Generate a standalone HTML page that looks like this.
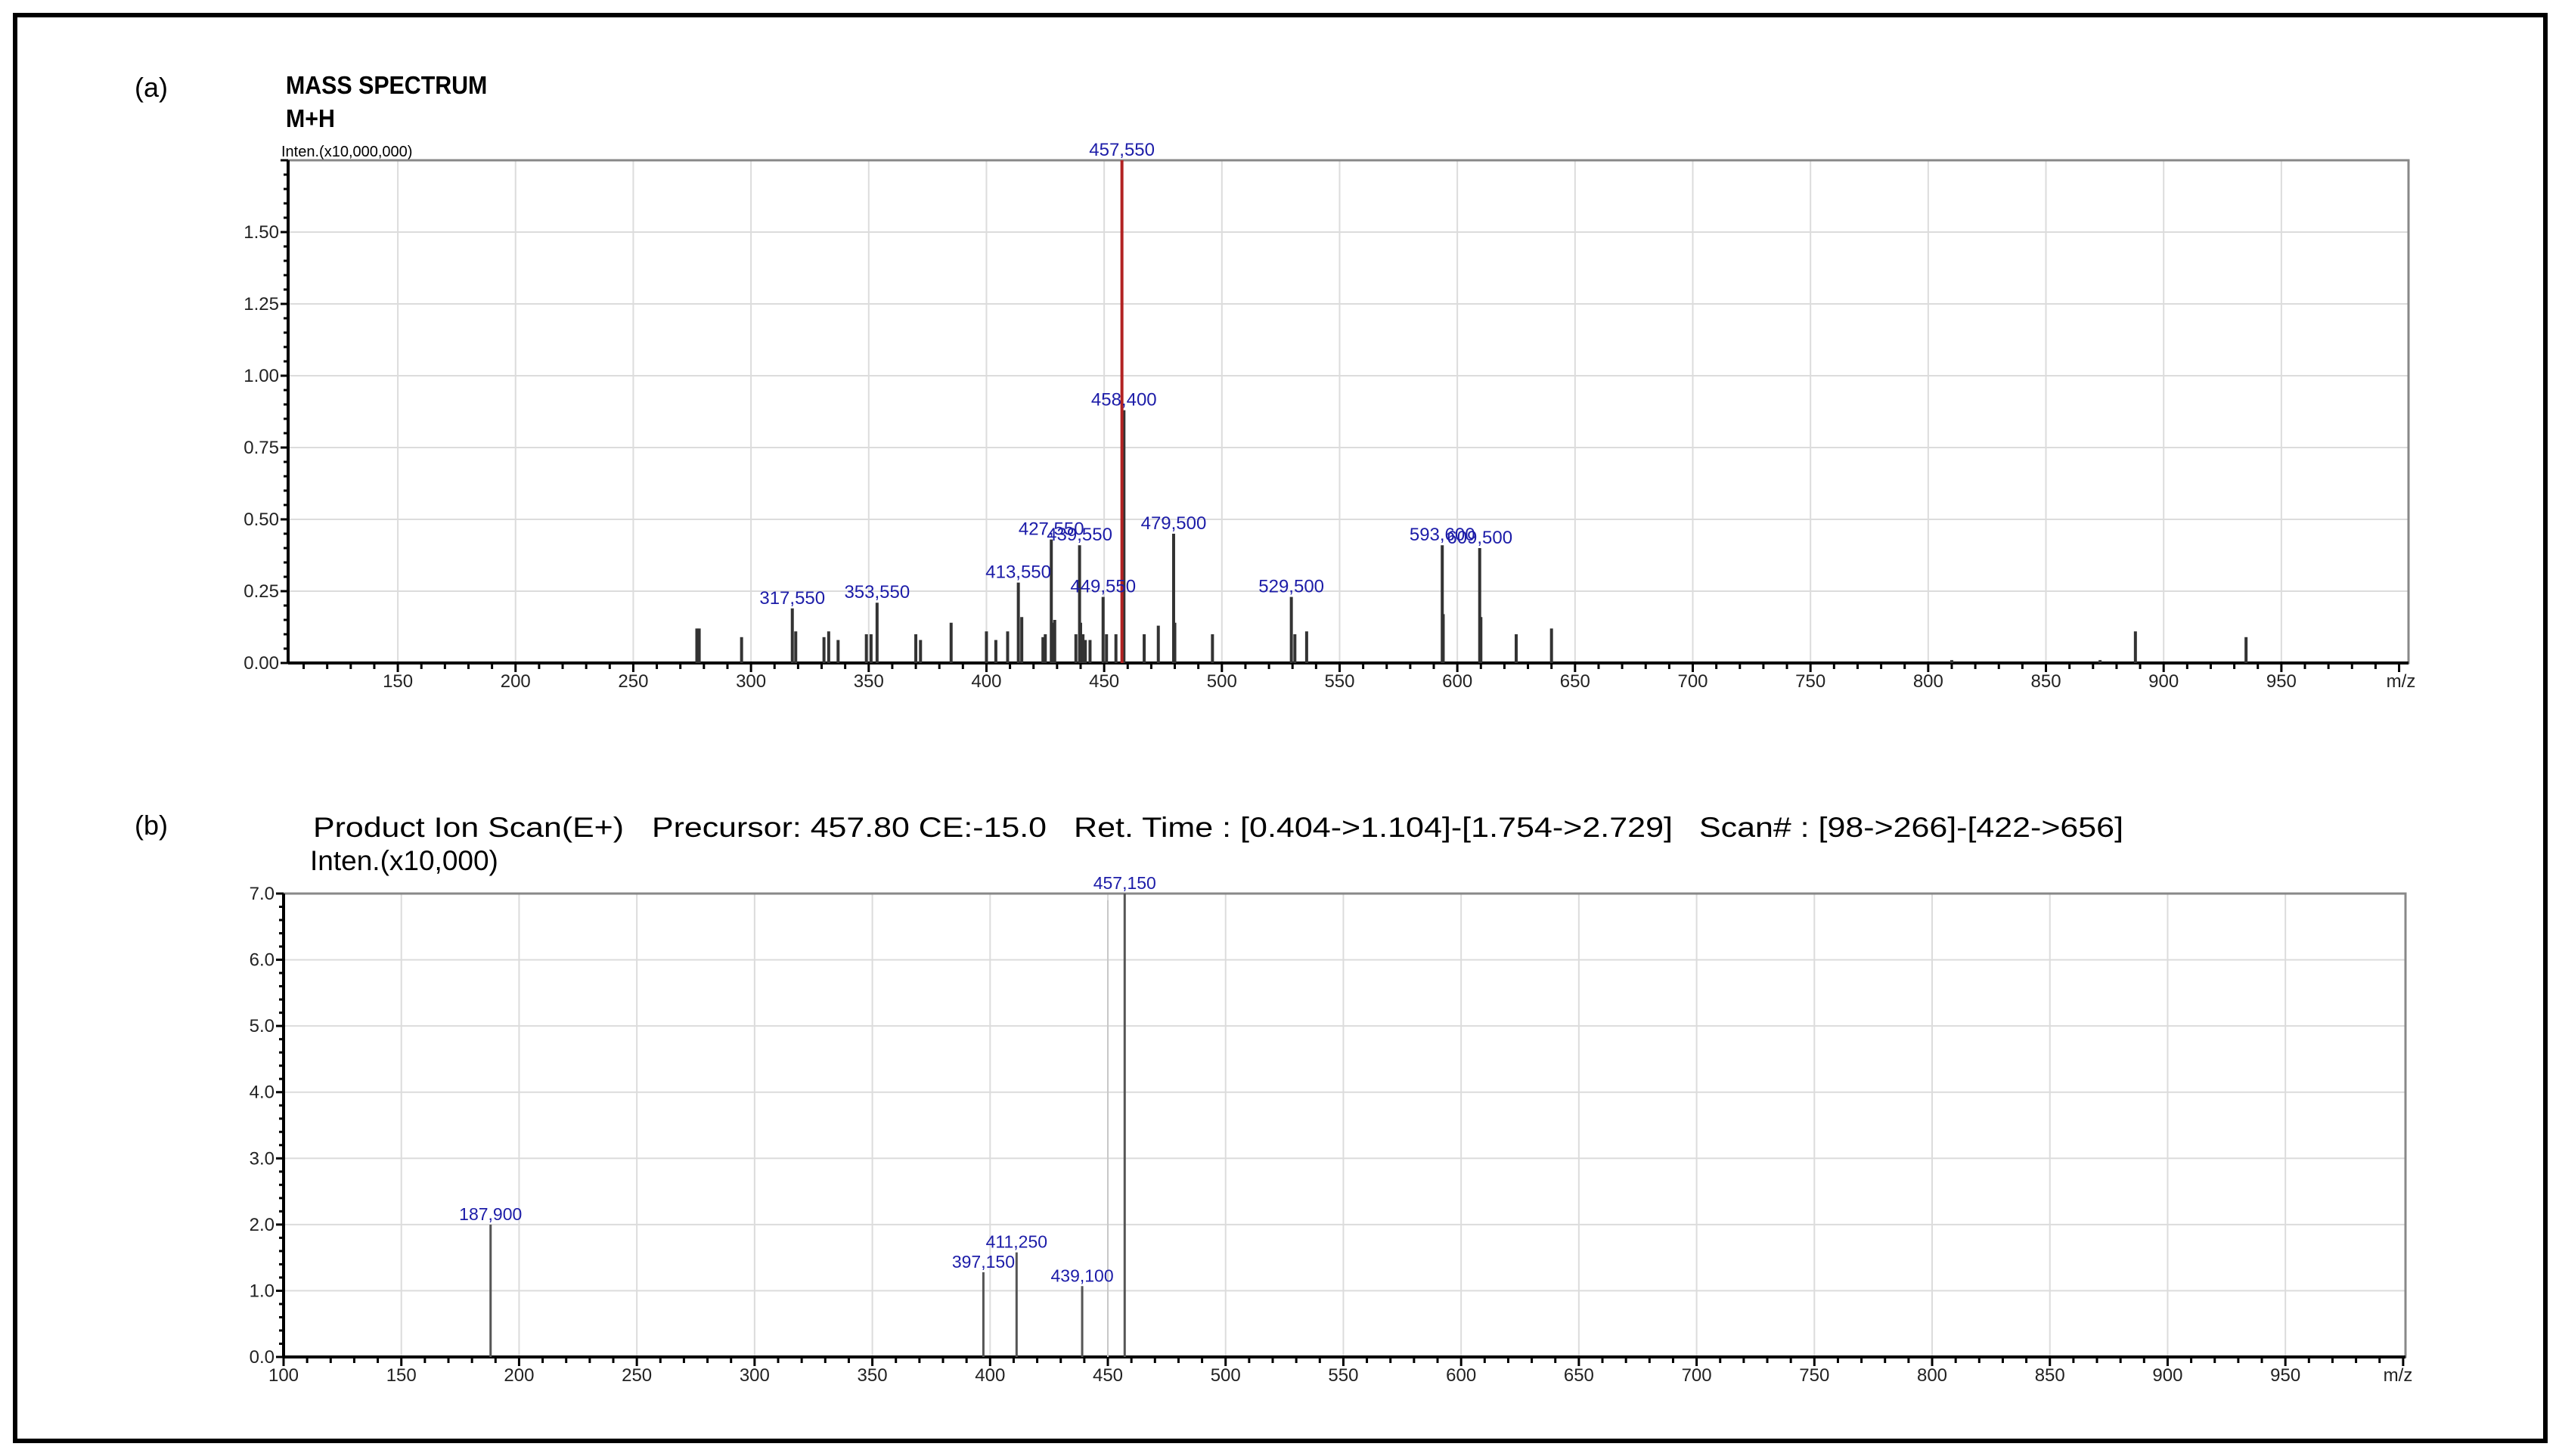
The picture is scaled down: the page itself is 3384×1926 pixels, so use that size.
<!DOCTYPE html>
<html><head><meta charset="utf-8">
<style>
html,body{margin:0;padding:0;background:#fff;}
svg{display:block;font-family:"Liberation Sans",sans-serif;}
</style></head>
<body>
<svg id="fig" width="3384" height="1926" viewBox="0 0 3384 1926" xmlns="http://www.w3.org/2000/svg">
<rect x="20" y="20" width="3346" height="1886" fill="#fff" stroke="#000" stroke-width="6"/>
<text x="178" y="128" font-size="36">(a)</text>
<text x="378" y="124" font-size="33" font-weight="bold" transform="translate(378 0) scale(0.92 1) translate(-378 0)">MASS SPECTRUM</text>
<text x="378" y="168" font-size="33" font-weight="bold" transform="translate(378 0) scale(0.92 1) translate(-378 0)">M+H</text>
<text x="372" y="207" font-size="20">Inten.(x10,000,000)</text>
<text x="178" y="1104" font-size="36">(b)</text>
<g font-size="37">
<text x="414" y="1107" textLength="411" lengthAdjust="spacingAndGlyphs">Product Ion Scan(E+)</text>
<text x="862" y="1107" textLength="522" lengthAdjust="spacingAndGlyphs">Precursor: 457.80 CE:-15.0</text>
<text x="1420" y="1107" textLength="792" lengthAdjust="spacingAndGlyphs">Ret. Time : [0.404-&gt;1.104]-[1.754-&gt;2.729]</text>
<text x="2247" y="1107" textLength="561" lengthAdjust="spacingAndGlyphs">Scan# : [98-&gt;266]-[422-&gt;656]</text>
</g>
<text x="410" y="1151" font-size="37">Inten.(x10,000)</text>
<g id="pa"></g>
<g id="pb"></g>
</svg>
<script>
// Panel A data
const aMz=[277,278,296,317.55,319,331,333,337,349,351,353.55,370,372,385,400,404,409,413.55,415,424,425,427.55,428,429,438,439.55,440,441,442,444,449.55,451,455,458.4,467,473,479.5,480,496,529.5,531,536,593.6,594,609.5,610,625,640,810,873,888,935];
const aInt=[0.12,0.12,0.09,0.19,0.11,0.09,0.11,0.08,0.10,0.10,0.21,0.10,0.08,0.14,0.11,0.08,0.11,0.28,0.16,0.09,0.10,0.43,0.14,0.15,0.10,0.41,0.14,0.10,0.08,0.08,0.23,0.10,0.10,0.88,0.10,0.13,0.45,0.14,0.10,0.23,0.10,0.11,0.41,0.17,0.40,0.16,0.10,0.12,0.01,0.01,0.11,0.09];
const aBase=[457.55];
const aBaseInt=[1.75];
const aLabelMz=[317.55,353.55,413.55,427.55,439.55,449.55,457.55,458.4,479.5,529.5,593.6,609.5];
const aLabelInt=[0.19,0.21,0.28,0.43,0.41,0.23,1.75,0.88,0.45,0.23,0.41,0.40];
const aLabelTxt=["317,550","353,550","413,550","427,550","439,550","449,550","457,550","458,400","479,500","529,500","593,600","609,500"];
const aXTicks=[150,200,250,300,350,400,450,500,550,600,650,700,750,800,850,900,950];
const aYTicks=[0,0.25,0.5,0.75,1.0,1.25,1.5];
const aYLabels=["0.00","0.25","0.50","0.75","1.00","1.25","1.50"];
// Panel B data
const bMz=[187.9,397.15,411.25,439.1,457.15];
const bInt=[2.0,1.28,1.58,1.07,7.0];
const bFaintMz=[450];
const bFaintInt=[6.9];
const bLabelMz=[187.9,397.15,411.25,439.1,457.15];
const bLabelInt=[2.0,1.28,1.58,1.07,7.0];
const bLabelTxt=["187,900","397,150","411,250","439,100","457,150"];
const bXTicks=[100,150,200,250,300,350,400,450,500,550,600,650,700,750,800,850,900,950];
const bYTicks=[0,1,2,3,4,5,6,7];
const bYLabels=["0.0","1.0","2.0","3.0","4.0","5.0","6.0","7.0"];

const NS="http://www.w3.org/2000/svg";
function mk(parent,tag,attrs,txt){const e=document.createElementNS(NS,tag);for(const k in attrs)e.setAttribute(k,attrs[k]);if(txt!==undefined)e.textContent=txt;parent.appendChild(e);return e;}

function panel(g,cfg){
  const L=cfg.L,R=cfg.R,T=cfg.T,B=cfg.B;
  const x=v=>L+(v-cfg.x0)/(cfg.x1-cfg.x0)*(R-L);
  const y=v=>B-(v-cfg.y0)/(cfg.y1-cfg.y0)*(B-T);
  cfg.xt.forEach(t=>{const l=mk(g,'line',{x1:x(t),x2:x(t),y1:T,y2:B,stroke:'#dcdcdc','stroke-width':2});
    
    });
  cfg.yt.forEach(t=>{if(t===cfg.y0)return;const l=mk(g,'line',{x1:L,x2:R,y1:y(t),y2:y(t),stroke:'#dcdcdc','stroke-width':2});
    
    });
  const fr=mk(g,'rect',{x:L,y:T,width:R-L,height:B-T,fill:'none',stroke:'#888','stroke-width':3});
  
  
  for(let v=Math.ceil(cfg.x0/10)*10;v<=cfg.x1;v+=10){const big=v%50===0;
    const tk=mk(g,'line',{x1:x(v),x2:x(v),y1:B,y2:B+(big?12:8),stroke:'#000','stroke-width':3});
    
    }
  const ystep=(cfg.yt[1]-cfg.yt[0])/5;
  for(let i=0;cfg.y0+i*ystep<=cfg.y1+1e-9;i++){const v=cfg.y0+i*ystep;const big=i%5===0;
    const tk=mk(g,'line',{x1:L-(big?10:6),x2:L,y1:y(v),y2:y(v),stroke:'#000','stroke-width':3});
    
    }
  const ax=mk(g,'line',{x1:L,x2:R,y1:B,y2:B,stroke:'#000','stroke-width':4});
  
  
  const ay=mk(g,'line',{x1:L,x2:L,y1:T,y2:B,stroke:'#000','stroke-width':4});
  
  
  cfg.xt.forEach(t=>{const e=mk(g,'text',{x:x(t),y:B+32,'font-size':24,'text-anchor':'middle',fill:'#222'},String(t));
    
    });
  const mz=mk(g,'text',{x:R-10,y:B+32,'font-size':24,'text-anchor':'middle',fill:'#222'},'m/z');
  
  
  cfg.yt.forEach((t,i)=>{const e=mk(g,'text',{x:L-12,y:y(t)+8,'font-size':24,'text-anchor':'end',fill:'#222'},cfg.yl[i]);
    
    });
  (cfg.fm||[]).forEach((m,i)=>{const p=mk(g,'line',{x1:x(m),x2:x(m),y1:B,y2:y(cfg.fi[i]),stroke:'#c8c8c8','stroke-width':2});
    
    });
  cfg.mz.forEach((m,i)=>{const p=mk(g,'line',{x1:x(m),x2:x(m),y1:B,y2:y(cfg.it[i]),stroke:cfg.pc,'stroke-width':cfg.pw});
    
    });
  (cfg.bm||[]).forEach((m,i)=>{const p=mk(g,'line',{x1:x(m),x2:x(m),y1:B,y2:y(cfg.bi[i]),stroke:'#b22222','stroke-width':4});
    
    });
  cfg.lm.forEach((m,i)=>{const e=mk(g,'text',{x:x(m),y:y(cfg.li[i])-6,'font-size':cfg.lf,'text-anchor':'middle',fill:'#1c1ca8'},cfg.lt[i]);
    
    });
}
panel(document.getElementById('pa'),{L:381,R:3185,T:212,B:877,x0:103.4,x1:1004,y0:0,y1:1.75,xt:aXTicks,yt:aYTicks,yl:aYLabels,mz:aMz,it:aInt,pc:'#333',pw:4,bm:aBase,bi:aBaseInt,lm:aLabelMz,li:aLabelInt,lt:aLabelTxt,lf:24});
panel(document.getElementById('pb'),{L:375,R:3181,T:1182,B:1795,x0:100,x1:1001,y0:0,y1:7.0,xt:bXTicks,yt:bYTicks,yl:bYLabels,mz:bMz,it:bInt,pc:'#555',pw:3,fm:bFaintMz,fi:bFaintInt,lm:bLabelMz,li:bLabelInt,lt:bLabelTxt,lf:23});
</script>
</body></html>
